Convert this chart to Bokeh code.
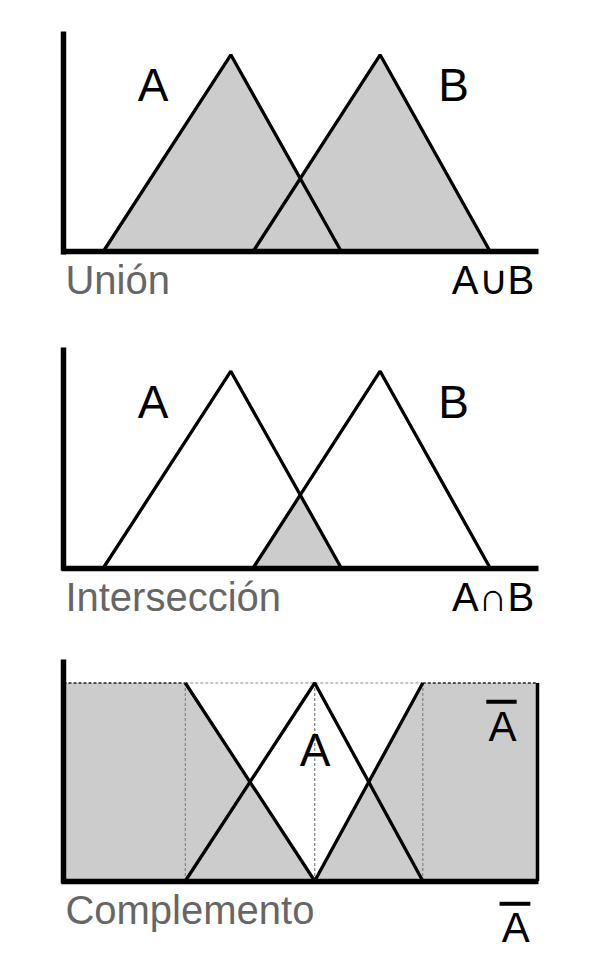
from bokeh.plotting import figure
from bokeh.models import Range1d, LinearAxis
from bokeh.layouts import column
from bokeh.embed import file_html
from bokeh.resources import INLINE
from bokeh.core.properties import value

# ---------------- data ----------------
# Panel 1 / 2 : fuzzy sets A and B (triangular membership functions)
A_x = [0.84, 3.53, 5.86]
A_mu = [0.0, 1.0, 0.0]
B_x = [4.0, 6.68, 9.0]
B_mu = [0.0, 1.0, 0.0]

# Panel 3 : fuzzy set A and its complement
C_A_x = [2.57, 5.3, 7.58]
C_A_mu = [0.0, 1.0, 0.0]
C_not_x = [0.0, 0.0, 2.57, 5.3, 7.58, 10.0, 10.0]
C_not_mu = [0.0, 1.0, 1.0, 0.0, 1.0, 1.0, 0.0]

titles = ["Unión", "Intersección", "Complemento"]
ops = ["A\u222aB", "A\u2229B", "A"]
set_labels = ["A", "B"]

# ---------------- layout helpers ----------------
FONT = value("Liberation Sans")
GRAY_FILL = "#cccccc"
PX_X = 47.4          # px per x unit
X0_PAGE = 63         # page x of x=0
PAGE_LEFT = 0
W = 600


def make_fig(height, top_page, y0_page, unit):
    xs = (PAGE_LEFT - X0_PAGE) / PX_X
    xe = (PAGE_LEFT + W - X0_PAGE) / PX_X
    ys = -(top_page + height - y0_page) / unit
    ye = (y0_page - top_page) / unit
    p = figure(width=W, height=height, x_range=Range1d(xs, xe), y_range=Range1d(ys, ye),
               output_backend="svg", toolbar_location=None,
               x_axis_type=None, y_axis_type=None, min_border=0)
    p.outline_line_color = None
    p.background_fill_color = "white"
    p.border_fill_color = "white"
    p.grid.visible = False
    for loc, fixed, bounds in (("below", 0, (-0.045, 10.03)), ("left", 0, (-0.013, 1.12))):
        ax = LinearAxis(fixed_location=fixed, bounds=bounds)
        ax.axis_line_width = 5.5
        ax.axis_line_color = "black"
        ax.major_tick_line_color = None
        ax.minor_tick_line_color = None
        ax.major_label_text_font_size = "0px"
        ax.major_label_text_color = None
        p.add_layout(ax, loc)
    return p


def labels(p, title, op):
    p.text(x=[0.04], y=[-0.147], text=[title], text_font=FONT, text_font_size=value("40px"),
           text_color="#666666", text_align="left", text_baseline="alphabetic")
    if op is not None:
        p.text(x=[9.93], y=[-0.147], text=[op], text_font=FONT, text_font_size=value("40px"),
               text_color="black", text_align="right", text_baseline="alphabetic")


def intersect(ax, bx):
    # falling edge of A with rising edge of B
    x1, x2 = ax[1], ax[2]
    x3, x4 = bx[0], bx[1]
    x = (x2 * (x4 - x3) + x3 * (x2 - x1)) / ((x4 - x3) + (x2 - x1))
    y = (x2 - x) / (x2 - x1)
    return x, y


BIG = value("46px")

# ---------------- panel 1 : union ----------------
p1 = make_fig(323, 0, 251, 196.7)
p1.patch(A_x, A_mu, fill_color=GRAY_FILL, line_color=None)
p1.patch(B_x, B_mu, fill_color=GRAY_FILL, line_color=None)
p1.line(A_x, A_mu, line_color="black", line_width=3.3)
p1.line(B_x, B_mu, line_color="black", line_width=3.3)
p1.text(x=[1.89, 8.23], y=[0.846, 0.846], text=set_labels, text_font=FONT,
        text_font_size=BIG, text_align="center", text_baseline="alphabetic",
        text_color="black")
labels(p1, titles[0], ops[0])

# ---------------- panel 2 : intersection ----------------
p2 = make_fig(312, 323, 567.5, 196.8)
ix, iy = intersect(A_x, B_x)
p2.patch([B_x[0], ix, A_x[2]], [0.0, iy, 0.0], fill_color=GRAY_FILL, line_color=None)
p2.line(A_x, A_mu, line_color="black", line_width=3.3)
p2.line(B_x, B_mu, line_color="black", line_width=3.3)
p2.text(x=[1.89, 8.23], y=[0.846, 0.846], text=set_labels, text_font=FONT,
        text_font_size=BIG, text_align="center", text_baseline="alphabetic",
        text_color="black")
labels(p2, titles[1], ops[1])

# ---------------- panel 3 : complement ----------------
p3 = make_fig(326, 635, 880.5, 198)
p3.patch(C_not_x, C_not_mu, fill_color=GRAY_FILL, line_color=None)
# reference dashed lines
p3.segment(x0=[C_A_x[0]], y0=[1.0], x1=[C_A_x[2]], y1=[1.0], line_color="#888888",
           line_width=1, line_dash="3 2")
p3.segment(x0=C_A_x, y0=[0.0] * 3, x1=C_A_x, y1=[1.0] * 3, line_color="#888888",
           line_width=1.3, line_dash="3 2")
p3.segment(x0=[C_not_x[1], C_not_x[4]], y0=[1.0, 1.0], x1=[C_not_x[2], C_not_x[5]],
           y1=[1.0, 1.0], line_color="#222222", line_width=1.6, line_dash="3 2")
p3.segment(x0=[C_not_x[5]], y0=[0.0], x1=[C_not_x[6]], y1=[1.0], line_color="black",
           line_width=3.5)
p3.line(C_A_x, C_A_mu, line_color="black", line_width=3.3)
p3.line(C_not_x[2:5], C_not_mu[2:5], line_color="black", line_width=3.3)
p3.text(x=[5.31], y=[0.663], text=["A"], text_font=FONT,
        text_font_size=BIG, text_align="center", text_baseline="alphabetic",
        text_color="black")
p3.text(x=[9.26], y=[0.78], text=["A"], text_font=FONT,
        text_font_size=value("42px"), text_align="center", text_baseline="alphabetic",
        text_color="black")
p3.segment(x0=[8.92], y0=[0.905], x1=[9.56], y1=[0.905], line_color="black", line_width=4)
labels(p3, titles[2], None)
p3.text(x=[9.54], y=[-0.235], text=[ops[2]], text_font=FONT, text_font_size=value("42px"),
        text_align="center", text_baseline="alphabetic", text_color="black")
p3.segment(x0=[9.2], y0=[-0.115], x1=[9.85], y1=[-0.115], line_color="black", line_width=4)

layout = column(p1, p2, p3, spacing=0)
open("out.html", "w").write(file_html(layout, INLINE))
